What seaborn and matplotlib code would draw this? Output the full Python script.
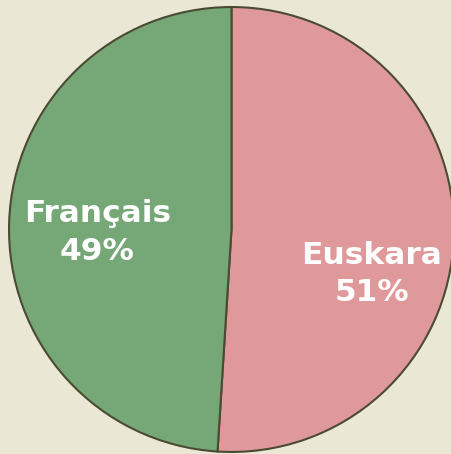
import matplotlib
matplotlib.use('Agg')
import matplotlib.pyplot as plt
import seaborn as sns

# data
languages = ['Euskara', 'Français']
shares = [51, 49]
slice_colors = ['#e0999a', '#76a877']

sns.set_style('white')
plt.rcParams['font.family'] = ['DejaVu Sans']

bg = '#ebe7d5'
edge = '#4b4a33'

fig = plt.figure(figsize=(4.52, 4.54), dpi=100)
fig.patch.set_facecolor(bg)
ax = fig.add_axes([0.0199, 0.0045, 0.9845, 0.980])
ax.set_facecolor(bg)

wedges, _ = ax.pie(shares, colors=slice_colors, startangle=90, counterclock=False,
                   radius=1.0,
                   wedgeprops={'edgecolor': edge, 'linewidth': 1.5, 'clip_on': False})
ax.set_xlim(-1, 1)
ax.set_ylim(-1, 1)
ax.set_aspect('equal')
ax.axis('off')

# label placement within each slice
label_pos = {'Euskara': (0.63, -0.2), 'Français': (-0.603, -0.015)}
for name, pct in zip(languages, shares):
    x, y = label_pos[name]
    ax.text(x, y, f'{name}\n{pct}%', ha='center', va='center', color='white',
            fontsize=22.5, fontweight='bold', linespacing=1.38)

fig.savefig('out.png', dpi=100, facecolor=bg)
